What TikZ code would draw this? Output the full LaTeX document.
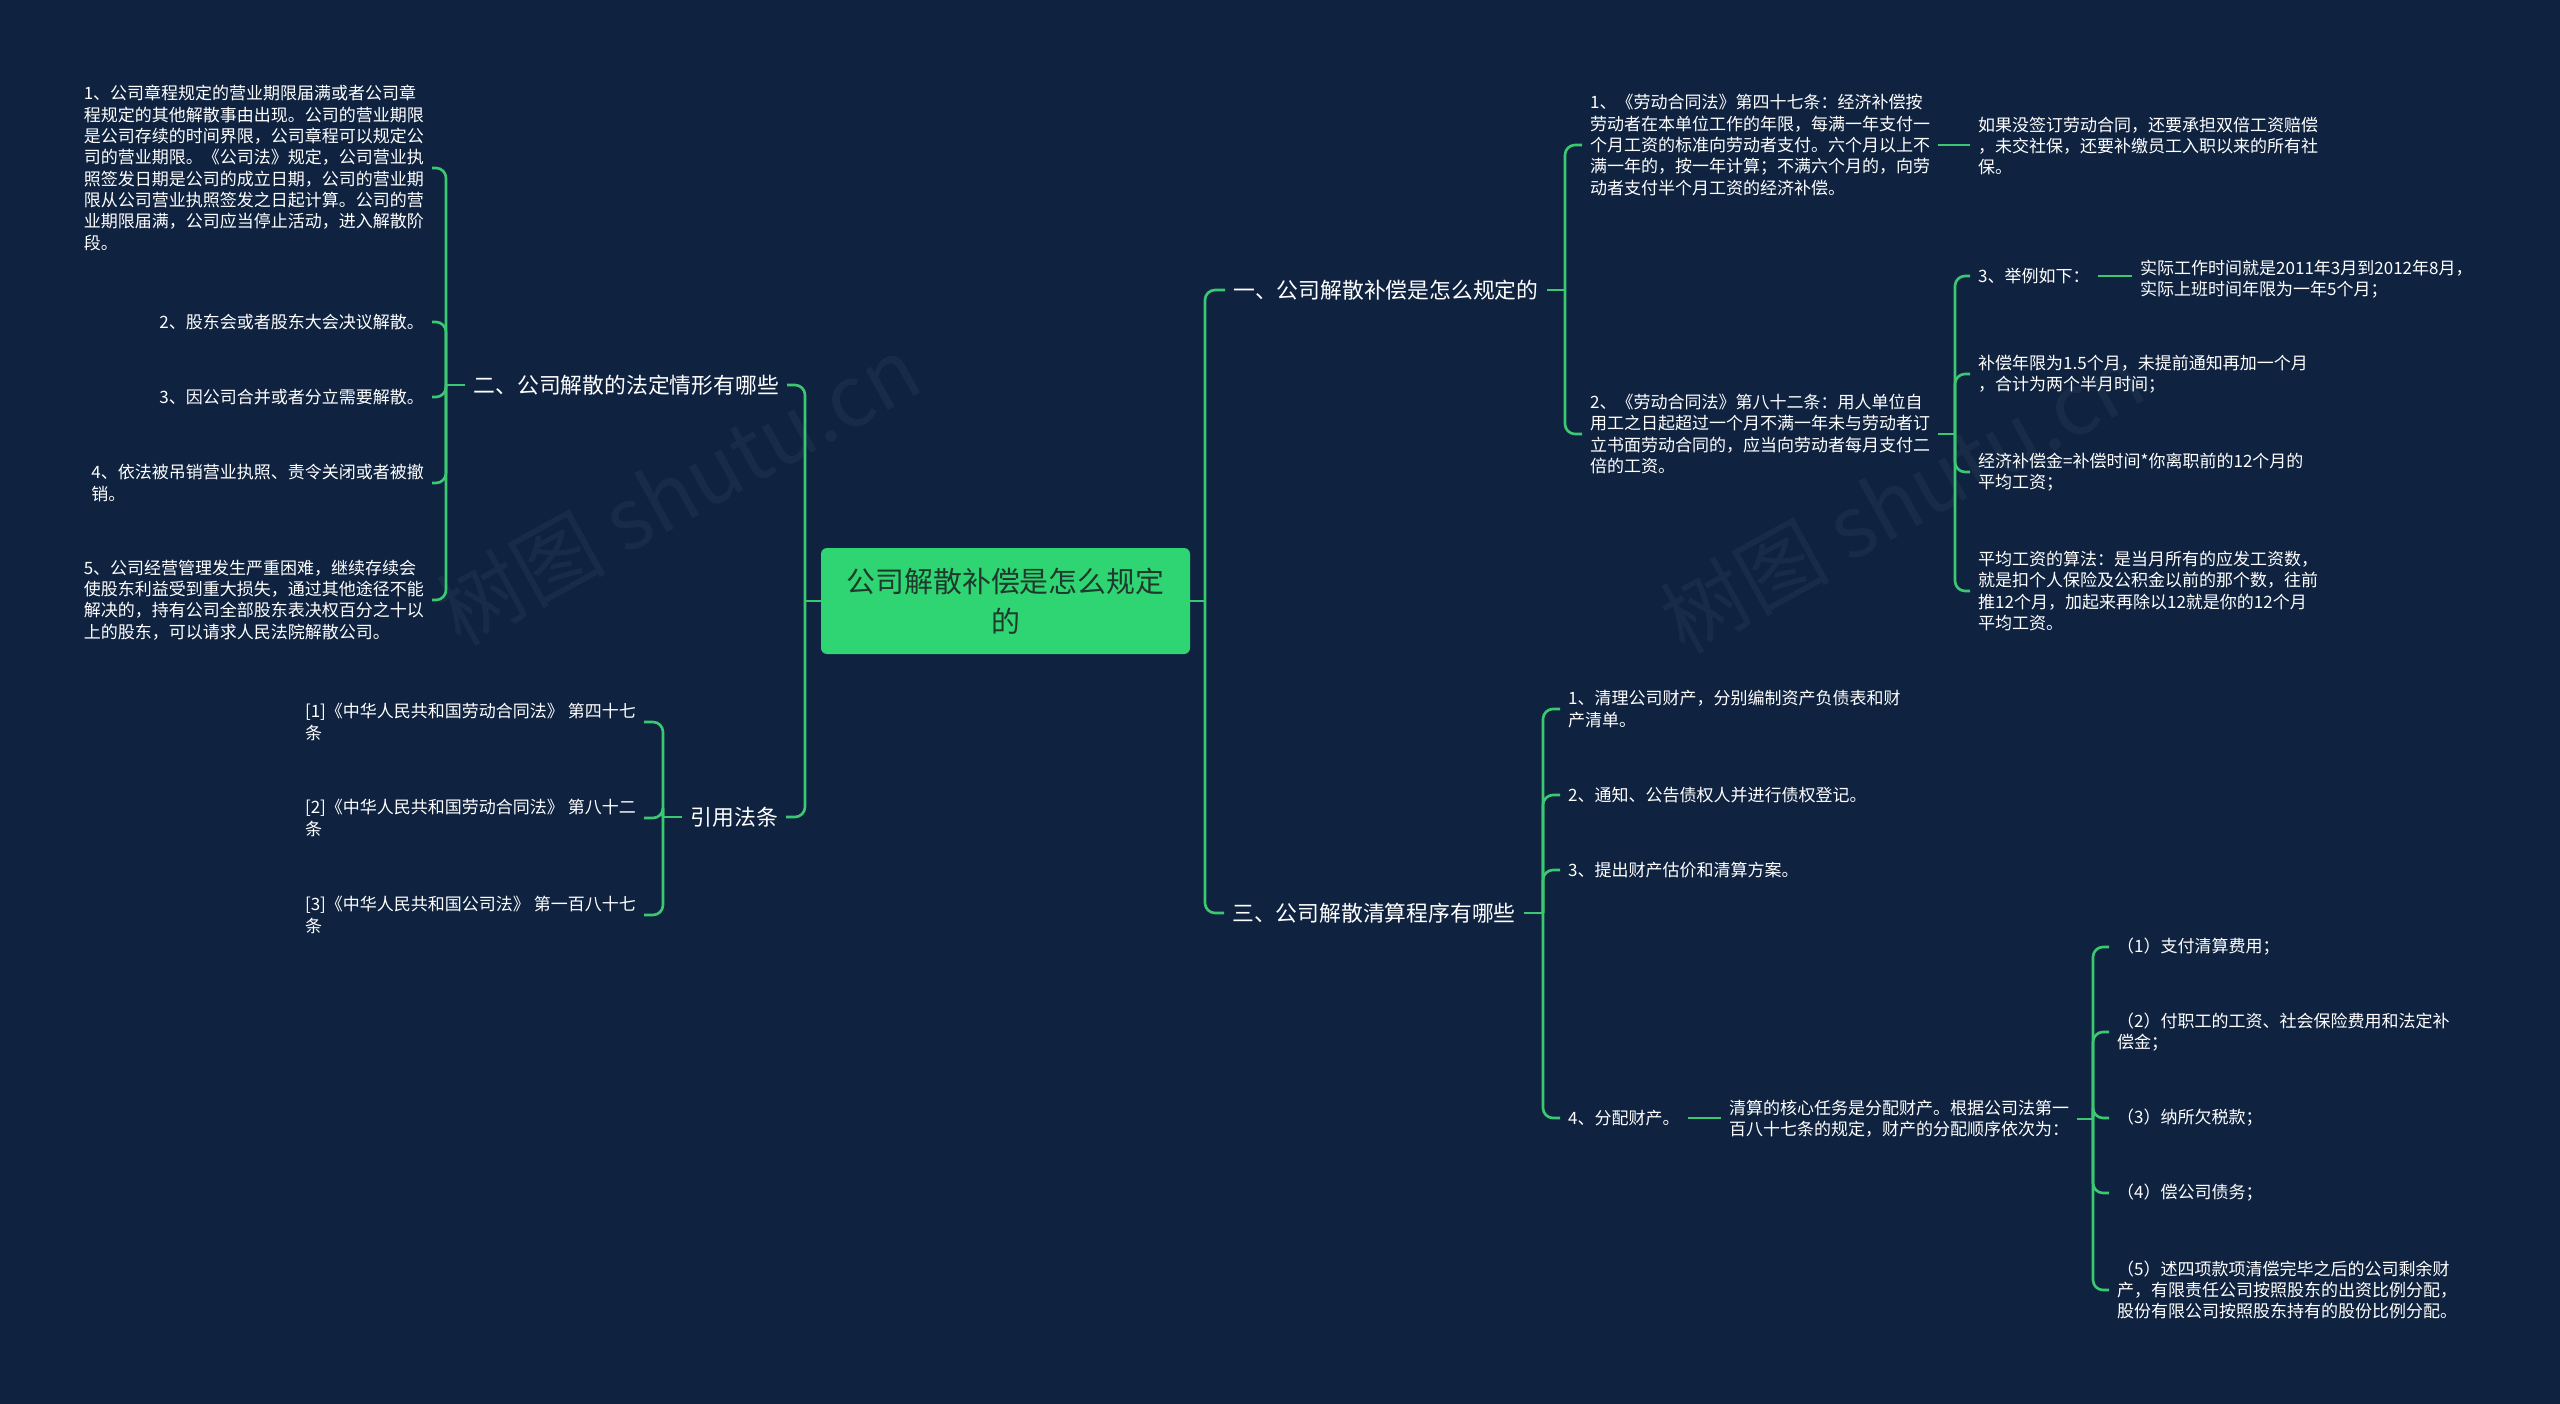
\documentclass[tikz,border=0pt]{standalone}
\usepackage{fontspec}
\setmainfont{Noto Sans CJK SC}
\definecolor{bg}{HTML}{0F2340}
\definecolor{ln}{HTML}{3CC873}
\definecolor{rootfill}{HTML}{2FD573}
\definecolor{roottext}{HTML}{1E3A2C}
\begin{document}
\begin{tikzpicture}[x=1pt,y=-1pt,
  conn/.style={draw=ln,line width=2.6pt,rounded corners=10pt},
  small/.style={font=\fontsize{17}{21.3}\selectfont,text=white,align=left,inner xsep=8pt,inner ysep=2pt},
  big/.style={font=\fontsize{21.8}{26}\selectfont,text=white,inner xsep=8pt,inner ysep=2pt},
  wm/.style={font=\fontsize{85}{85}\selectfont,text=white,opacity=0.04,rotate=29}]
\fill[bg] (0,0) rectangle (2560,1404);
\useasboundingbox (0,0) rectangle (2560,1404);
\node[wm] (w1) at (678,490) {树图 shutu.cn};
\node[wm] (w2) at (1902,498) {树图 shutu.cn};
% root
\node[fill=rootfill,rounded corners=6pt,minimum width=369pt,minimum height=106pt,
  font=\fontsize{28.9}{40}\selectfont,text=roottext,align=center] (root) at (1005.5,601) {公司解散补偿是怎么规定\\的};
% main branches
\node[big,anchor=west] (n1) at (1225,290) {一、公司解散补偿是怎么规定的};
\node[big,anchor=east] (n2) at (787,385) {二、公司解散的法定情形有哪些};
\node[big,anchor=west] (n3) at (1224,913) {三、公司解散清算程序有哪些};
\node[big,anchor=east] (n4) at (786,817) {引用法条};
% branch 二 children
\node[small,anchor=east] (c21) at (432,168) {1、公司章程规定的营业期限届满或者公司章\\程规定的其他解散事由出现。公司的营业期限\\是公司存续的时间界限，公司章程可以规定公\\司的营业期限。《公司法》规定，公司营业执\\照签发日期是公司的成立日期，公司的营业期\\限从公司营业执照签发之日起计算。公司的营\\业期限届满，公司应当停止活动，进入解散阶\\段。};
\node[small,anchor=east] (c22) at (432,322) {2、股东会或者股东大会决议解散。};
\node[small,anchor=east] (c23) at (432,397) {3、因公司合并或者分立需要解散。};
\node[small,anchor=east] (c24) at (432,483) {4、依法被吊销营业执照、责令关闭或者被撤\\销。};
\node[small,anchor=east] (c25) at (432,600) {5、公司经营管理发生严重困难，继续存续会\\使股东利益受到重大损失，通过其他途径不能\\解决的，持有公司全部股东表决权百分之十以\\上的股东，可以请求人民法院解散公司。};
% 引用法条 children
\node[small,anchor=east] (c41) at (644,722) {[1]《中华人民共和国劳动合同法》 第四十七\\条};
\node[small,anchor=east] (c42) at (644,818) {[2]《中华人民共和国劳动合同法》 第八十二\\条};
\node[small,anchor=east] (c43) at (644,915) {[3]《中华人民共和国公司法》 第一百八十七\\条};
% branch 一 children
\node[small,anchor=west] (c11) at (1582,145) {1、《劳动合同法》第四十七条：经济补偿按\\劳动者在本单位工作的年限，每满一年支付一\\个月工资的标准向劳动者支付。六个月以上不\\满一年的，按一年计算；不满六个月的，向劳\\动者支付半个月工资的经济补偿。};
\node[small,anchor=west] (c111) at (1970,146) {如果没签订劳动合同，还要承担双倍工资赔偿\\，未交社保，还要补缴员工入职以来的所有社\\保。};
\node[small,anchor=west] (c12) at (1582,434) {2、《劳动合同法》第八十二条：用人单位自\\用工之日起超过一个月不满一年未与劳动者订\\立书面劳动合同的，应当向劳动者每月支付二\\倍的工资。};
\node[small,anchor=west] (c121) at (1970,276) {3、举例如下：};
\node[small,anchor=west] (c1211) at (2132,279) {实际工作时间就是2011年3月到2012年8月，\\实际上班时间年限为一年5个月；};
\node[small,anchor=west] (c122) at (1970,374) {补偿年限为1.5个月，未提前通知再加一个月\\，合计为两个半月时间；};
\node[small,anchor=west] (c123) at (1970,472) {经济补偿金=补偿时间*你离职前的12个月的\\平均工资；};
\node[small,anchor=west] (c124) at (1970,591) {平均工资的算法：是当月所有的应发工资数，\\就是扣个人保险及公积金以前的那个数，往前\\推12个月，加起来再除以12就是你的12个月\\平均工资。};
% branch 三 children
\node[small,anchor=west] (c31) at (1560,709) {1、清理公司财产，分别编制资产负债表和财\\产清单。};
\node[small,anchor=west] (c32) at (1560,795) {2、通知、公告债权人并进行债权登记。};
\node[small,anchor=west] (c33) at (1560,870) {3、提出财产估价和清算方案。};
\node[small,anchor=west] (c34) at (1560,1118) {4、分配财产。};
\node[small,anchor=west] (c341) at (1721,1119) {清算的核心任务是分配财产。根据公司法第一\\百八十七条的规定，财产的分配顺序依次为：};
\node[small,anchor=west] (d1) at (2109,947) {（1）支付清算费用；};
\node[small,anchor=west] (d2) at (2109,1032) {（2）付职工的工资、社会保险费用和法定补\\偿金；};
\node[small,anchor=west] (d3) at (2109,1118) {（3）纳所欠税款；};
\node[small,anchor=west] (d4) at (2109,1193) {（4）偿公司债务；};
\node[small,anchor=west] (d5) at (2109,1290) {（5）述四项款项清偿完毕之后的公司剩余财\\产，有限责任公司按照股东的出资比例分配，\\股份有限公司按照股东持有的股份比例分配。};
% junctions
\coordinate (rj) at (1205,601);
\coordinate (lj) at (805,601);
\coordinate (j1) at (1565,290);
\coordinate (j12) at (1955,434);
\coordinate (j2) at (446,385);
\coordinate (j4) at (663,817);
\coordinate (j3) at (1543,913);
\coordinate (j341) at (2093,1118);
% connectors
\draw[conn] (root.east) -- (root.east -| rj);
\draw[conn] (rj) |- (n1.west);
\draw[conn] (rj) |- (n3.west);
\draw[conn] (root.west) -- (root.west -| lj);
\draw[conn] (lj) |- (n2.east);
\draw[conn] (lj) |- (n4.east);
\draw[conn] (n2.west) -- (n2.west -| j2);
\foreach \c in {c21,c22,c23,c24,c25} \draw[conn] (j2) |- (\c.east);
\draw[conn] (n4.west) -- (n4.west -| j4);
\foreach \c in {c41,c42,c43} \draw[conn] (j4) |- (\c.east);
\draw[conn] (n1.east) -- (n1.east -| j1);
\foreach \c in {c11,c12} \draw[conn] (j1) |- (\c.west);
\draw[conn] (c11.east) -- (c11.east -| c111.west);
\draw[conn] (c12.east) -- (c12.east -| j12);
\foreach \c in {c121,c122,c123,c124} \draw[conn] (j12) |- (\c.west);
\draw[conn] (c121.east) -- (c121.east -| c1211.west);
\draw[conn] (n3.east) -- (n3.east -| j3);
\foreach \c in {c31,c32,c33,c34} \draw[conn] (j3) |- (\c.west);
\draw[conn] (c34.east) -- (c34.east -| c341.west);
\draw[conn] (c341.east) -- (c341.east -| j341);
\foreach \c in {d1,d2,d3,d4,d5} \draw[conn] (j341) |- (\c.west);
\end{tikzpicture}
\end{document}
